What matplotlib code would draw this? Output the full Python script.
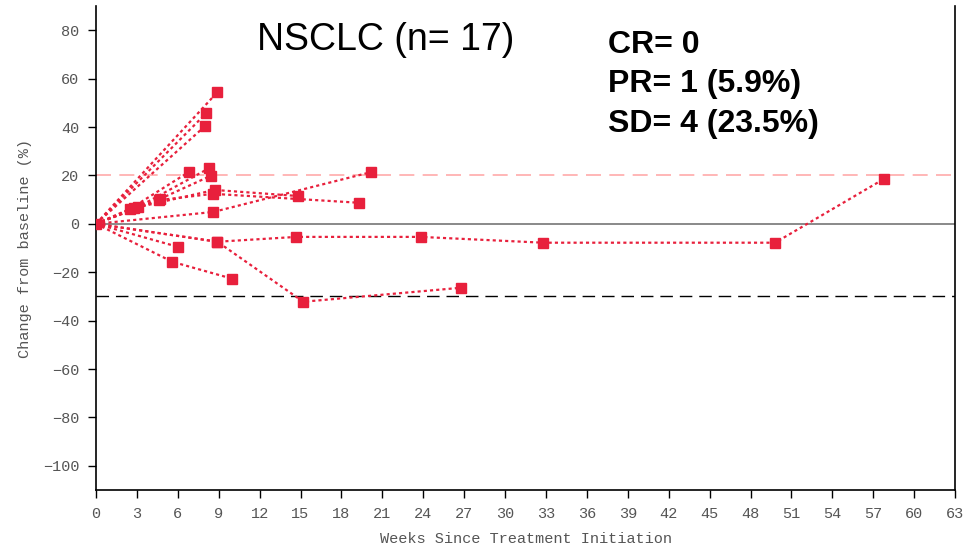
import numpy as np
import matplotlib.pyplot as plt

# Tumour size change per patient: weeks since start and % change from baseline
weeks = [
    [0, 8.9],
    [0, 8.1],
    [0, 8.0],
    [0, 2.5, 6.8],
    [0, 3.1, 8.3],
    [0, 4.7, 8.4],
    [0, 2.8, 8.7, 14.8],
    [0, 4.6, 8.6, 19.3],
    [0, 8.6, 20.2],
    [0, 8.9, 14.7, 23.8, 32.8, 49.8, 57.8],
    [0, 8.9, 15.2, 26.8],
    [0, 6.0],
    [0, 5.6, 10.0],
]
change = [
    [0, 54.4],
    [0, 45.8],
    [0, 40.4],
    [0, 6.2, 21.4],
    [0, 7.0, 23.0],
    [0, 10.3, 19.8],
    [0, 6.5, 14.0, 11.5],
    [0, 9.8, 12.4, 8.7],
    [0, 4.9, 21.4],
    [0, -7.4, -5.4, -5.4, -7.8, -7.8, 18.6],
    [0, -7.4, -32.2, -26.4],
    [0, -9.5],
    [0, -15.7, -22.7],
]

title = "NSCLC (n= 17)"
response = ["CR= 0", "PR= 1 (5.9%)", "SD= 4 (23.5%)"]

red = '#e8203c'
mono = 'Liberation Mono'

fig = plt.figure(figsize=(9.68, 5.48), dpi=100)
ax = fig.add_axes([0.0992, 0.1058, 0.8874, 0.8832])

# reference lines: progression (+20%), baseline, partial response (-30%)
ax.axhline(20, color='#ffaaaa', lw=1.2, dashes=(9, 5), zorder=1)
ax.axhline(0, color='#808080', lw=1.3, zorder=1)
ax.axhline(-30, color='black', lw=1.0, dashes=(9, 5), zorder=1)

for w, c in zip(weeks, change):
    ax.plot(w, c, color=red, lw=1.6, linestyle=(0, (1.4, 1.4)),
            marker='s', markersize=6.5, markevery=list(range(1, len(w))),
            zorder=3)
ax.plot([0], [0], marker='s', color=red, markersize=6.5, zorder=3)

ax.set_xlim(0, 63)
ax.set_ylim(-110, 90)
ax.set_xticks(np.arange(0, 64, 3))
ax.set_yticks(np.arange(-100, 81, 20))

for s in ['top']:
    ax.spines[s].set_visible(False)
for s in ['left', 'bottom', 'right']:
    ax.spines[s].set_linewidth(1.2)
ax.tick_params(direction='out', length=6, width=1.0, colors='black',
               labelcolor='#555555', labelsize=11, pad=6)
for lbl in ax.get_xticklabels() + ax.get_yticklabels():
    lbl.set_fontfamily(mono)

ax.set_xlabel("Weeks Since Treatment Initiation", fontfamily=mono,
              fontsize=11, color='#555555', labelpad=8)
ax.set_ylabel("Change from baseline (%)", fontfamily=mono,
              fontsize=11, color='#555555', labelpad=8)

fig.text(0.398, 0.927, title, fontfamily='Liberation Sans', fontsize=27,
         ha='center', va='center')
for i, t in enumerate(response):
    fig.text(0.628, 0.918 - i * 0.072, t, fontfamily='Liberation Sans',
             fontsize=23, fontweight='bold', ha='left', va='center')

fig.savefig('out.png', dpi=100)
